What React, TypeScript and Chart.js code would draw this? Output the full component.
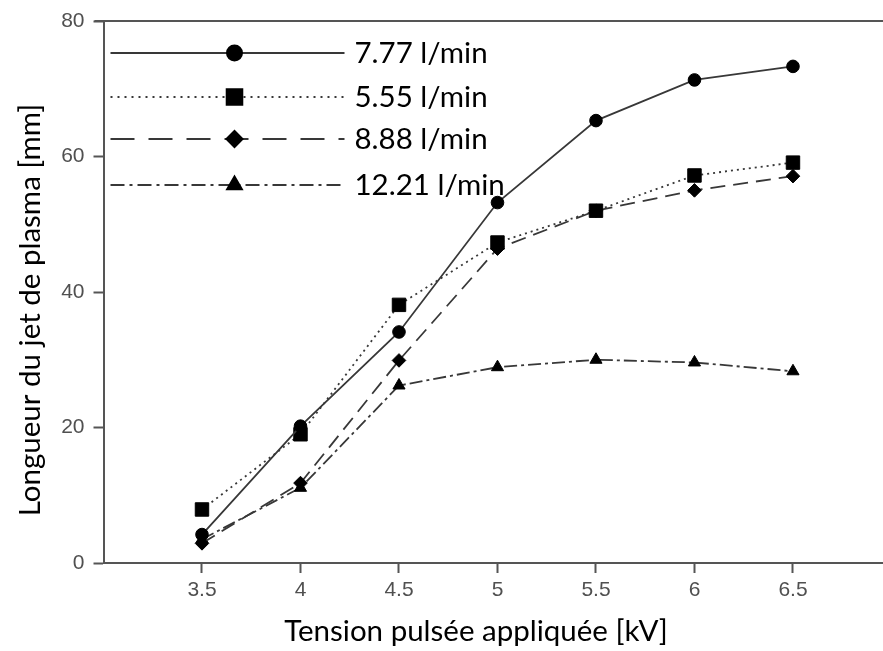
import React, { useEffect, useRef } from "react";
import Chart from "chart.js/auto";
import { drawPoint } from "chart.js/helpers";

// ---- data ----
const voltages = [3.5, 4, 4.5, 5, 5.5, 6, 6.5];
const flow777 = [4.2, 20.2, 34.1, 53.2, 65.3, 71.3, 73.3];
const flow555 = [7.9, 19.0, 38.1, 47.3, 52.0, 57.2, 59.1];
const flow888 = [2.9, 11.8, 29.9, 46.4, 52.0, 55.0, 57.1];
const flow1221 = [3.5, 11.1, 26.2, 28.9, 30.0, 29.6, 28.3];
const seriesLabels = ["7.77 l/min", "5.55 l/min", "8.88 l/min", "12.21 l/min"];
const xTicks = [3.5, 4, 4.5, 5, 5.5, 6, 6.5];
const yTicks = [0, 20, 40, 60, 80];
const xTitle = "Tension pulsée appliquée [kV]";
const yTitle = "Longueur du jet de plasma [mm]";

// ---- styles ----
const LINE = "#383838";
const AXIS = "#555555";
const TITLE_FONT = "Lato, 'Open Sans', sans-serif";
const TICK_FONT = "'Liberation Sans', Arial, sans-serif";
const pointStyles = ["circle", "rect", "rectRot", "triangle"];
const pointRadii = [6.3, 9.5, 6.8, 7];
const dashes = [[], [2, 4], [15, 8], [13, 4, 3, 4]];
const legendDashes = [[], [2, 5], [24, 14], [14, 5, 3, 5]];
const legendRadii = [7.5, 11, 8, 8.5];
const legendRowsY = [32, 76, 118, 164];

const toXY = (ys: number[]) => voltages.map((x, i) => ({ x, y: ys[i] }));

const insideLegend = {
  id: "insideLegend",
  afterDatasetsDraw(chart: any) {
    const { ctx, chartArea } = chart;
    const x0 = chartArea.left + 7;
    const x1 = chartArea.left + 241;
    const xm = chartArea.left + 131;
    const xt = chartArea.left + 251;
    chart.data.datasets.forEach((ds: any, i: number) => {
      const y = chartArea.top + legendRowsY[i];
      ctx.save();
      ctx.strokeStyle = ds.borderColor;
      ctx.lineWidth = 2;
      ctx.setLineDash(legendDashes[i]);
      ctx.beginPath();
      ctx.moveTo(x0, y);
      ctx.lineTo(x1, y);
      ctx.stroke();
      ctx.setLineDash([]);
      ctx.fillStyle = "#000";
      ctx.strokeStyle = "#000";
      drawPoint(ctx, { pointStyle: pointStyles[i], radius: legendRadii[i], rotation: 0, borderWidth: 1 }, xm, y);
      ctx.fillStyle = "#000";
      ctx.font = `29.5px ${TITLE_FONT}`;
      ctx.textAlign = "left";
      ctx.textBaseline = "middle";
      ctx.fillText(ds.label, xt, y);
      ctx.restore();
    });
  },
};

const frameAndTitles = {
  id: "frameAndTitles",
  afterDraw(chart: any) {
    const { ctx, chartArea } = chart;
    ctx.save();
    ctx.strokeStyle = AXIS;
    ctx.lineWidth = 2;
    ctx.beginPath();
    ctx.moveTo(chartArea.left - 9, chartArea.top);
    ctx.lineTo(chartArea.right, chartArea.top);
    ctx.stroke();
    ctx.fillStyle = "#000";
    ctx.font = `29.5px ${TITLE_FONT}`;
    ctx.textAlign = "center";
    ctx.textBaseline = "middle";
    ctx.fillText(xTitle, 476, 631);
    ctx.translate(30, 310);
    ctx.rotate(-Math.PI / 2);
    ctx.fillText(yTitle, 0, 0);
    ctx.restore();
  },
};

export default function App() {
  const ref = useRef<HTMLCanvasElement | null>(null);
  useEffect(() => {
    if (!ref.current) return;
    const datasets = [flow777, flow555, flow888, flow1221].map((ys, i) => ({
      label: seriesLabels[i],
      data: toXY(ys),
      borderColor: LINE,
      borderWidth: 1.8,
      borderDash: dashes[i],
      pointStyle: pointStyles[i],
      pointRadius: pointRadii[i],
      pointBackgroundColor: "#000",
      pointBorderColor: "#000",
      pointBorderWidth: 1,
      tension: 0,
      fill: false,
    }));
    const chart = new Chart(ref.current, {
      type: "line",
      data: { datasets },
      plugins: [insideLegend, frameAndTitles],
      options: {
        animation: false,
        responsive: false,
        devicePixelRatio: 1,
        layout: { autoPadding: false, padding: { top: 21, right: 0, left: 0, bottom: 0 } },
        plugins: { legend: { display: false }, tooltip: { enabled: false } },
        scales: {
          x: {
            type: "linear",
            min: 3,
            max: 6.957,
            afterBuildTicks: (s: any) => {
              s.ticks = xTicks.map((v) => ({ value: v }));
            },
            afterFit: (s: any) => {
              s.height = 88;
              s.paddingLeft = 0;
              s.paddingRight = 0;
            },
            ticks: {
              autoSkip: false,
              maxRotation: 0,
              padding: 5,
              color: "#505050",
              font: { family: TICK_FONT, size: 21 },
              callback: (v: any) => String(v),
            },
            grid: { drawOnChartArea: false, drawTicks: true, tickLength: 10, tickColor: AXIS, tickWidth: 2 },
            border: { display: true, color: AXIS, width: 2 },
          },
          y: {
            type: "linear",
            min: 0,
            max: 80,
            afterBuildTicks: (s: any) => {
              s.ticks = yTicks.map((v) => ({ value: v }));
            },
            afterFit: (s: any) => {
              s.width = 103.5;
              s.paddingTop = 0;
              s.paddingBottom = 0;
            },
            ticks: {
              padding: 9,
              color: "#505050",
              font: { family: TICK_FONT, size: 21 },
            },
            grid: { drawOnChartArea: false, drawTicks: true, tickLength: 10, tickColor: AXIS, tickWidth: 2 },
            border: { display: true, color: AXIS, width: 2 },
          },
        },
      },
    } as any);
    return () => chart.destroy();
  }, []);
  return (
    <div style={{ position: "absolute", left: 0, top: 0, width: 883, height: 651, background: "#fff" }}>
      <canvas ref={ref} width={883} height={651} style={{ display: "block" }} />
    </div>
  );
}
